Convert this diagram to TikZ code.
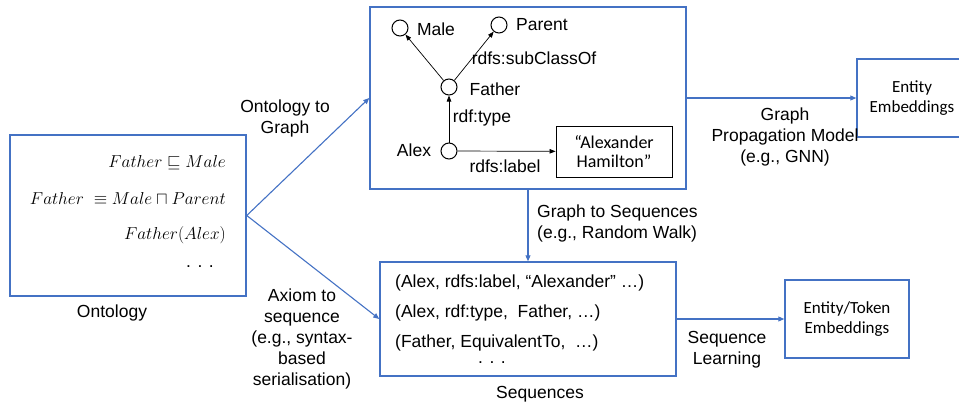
\documentclass[tikz,border=0pt]{standalone}
\usepackage{fontspec}
\setmainfont{Liberation Sans}
\newfontfamily\calibri{Carlito}
\usepackage{amssymb}
\usetikzlibrary{arrows.meta}
\definecolor{boxblue}{RGB}{68,114,196}

\begin{document}
\begin{tikzpicture}[x=1pt,y=-1pt,
    every node/.style={font=\fontsize{17.5}{21}\selectfont, inner sep=0pt},
    bluebox/.style={draw=boxblue, line width=1.5pt},
    flow/.style={draw=boxblue, line width=1.1pt, -{Triangle[length=6pt,width=5pt]}},
    rdfnode/.style={circle, draw, line width=1pt, minimum size=16pt},
    rdfedge/.style={draw, line width=0.7pt, -{Triangle[length=6pt,width=4.5pt]}},
    embtext/.style={align=center, font=\calibri\fontsize{17}{20}\selectfont}
  ]
        \clip (0,0) rectangle (959,405);
        % ontology
        \node[bluebox, minimum width=236pt, minimum height=161pt] (onto) at (128,215.5) {};
        \node (ax1) at (226,163) [anchor=east] {\fontsize{18}{21}\selectfont$Father \sqsubseteq Male$};
        \node (ax2) at (226,198) [anchor=east] {\fontsize{18}{21}\selectfont$Father\ \equiv Male \sqcap Parent$};
        \node (ax3) at (226,235) [anchor=east] {\fontsize{18}{21}\selectfont$Father(Alex)$};
        \node (axd) at (200,267) {. . .};
        \node (ontolabel) at (112,313) {Ontology};
        % graph
        \node[bluebox, minimum width=316pt, minimum height=182pt] (graph) at (528,98) {};
        \node[rdfnode] (male) at (400,28) {};
        \node[rdfnode] (parent) at (499,25) {};
        \node[rdfnode] (father) at (449,87) {};
        \node[rdfnode] (alex) at (449,151) {};
        \node (malelabel) at (436,29) {Male};
        \node (parentlabel) at (542,25) {Parent};
        \node (fatherlabel) at (495,89) {Father};
        \node (alexlabel) at (414,150) {Alex};
        \node[draw, line width=0.9pt, minimum width=116pt, minimum height=51pt, embtext,
              font=\calibri\fontsize{18}{19.5}\selectfont] (hamilton) at (614,151.5) {“Alexander\\Hamilton”};
        \draw[rdfedge] (father) -- (male);
        \draw[rdfedge] (father) -- (parent);
        \draw[rdfedge] (alex) -- (father);
        \draw[rdfedge] (alex) -- (hamilton);
        \node (subclass) at (534,58) {rdfs:subClassOf};
        \node (rdftype) at (482,118) {rdf:type};
        \node (rdfslabel) at (505,166) {rdfs:label};
        % sequences
        \node[bluebox, minimum width=296pt, minimum height=114pt] (seq) at (528,319) {};
        \node (seq1) at (395,283) [anchor=west] {(Alex, rdfs:label, “Alexander” …)};
        \node (seq2) at (395,313) [anchor=west] {(Alex, rdf:type,\ \ Father, …)};
        \node (seq3) at (395,343) [anchor=west] {(Father, EquivalentTo,\ \ …)};
        \node (seqd) at (492,363) {. . .};
        \node (seqlabel) at (540,394) {Sequences};
        % embeddings
        \node[bluebox, minimum width=111pt, minimum height=78pt] (entity) at (912.5,98) {};
        \node[embtext] (entitytext) at (912,98) {Entity\\Embeddings};
        \node[bluebox, minimum width=124pt, minimum height=78pt] (token) at (847,319) {};
        \node[embtext] (tokentext) at (847,319) {Entity/Token\\Embeddings};
        % flows
        \draw[flow] (onto.east) -- (graph.west);
        \draw[flow] (onto.east) -- (seq.west);
        \draw[flow] (graph.east) -- (entity.west);
        \draw[flow] (graph.south) -- (seq.north);
        \draw[flow] (seq.east) -- (token.west);
        \node[align=center] (o2g) at (285,118) {Ontology to\\Graph};
        \node[align=center] (a2s) at (302,339) {Axiom to\\sequence\\(e.g., syntax-\\based\\serialisation)};
        \node[align=left, anchor=west] (g2s) at (537,223) {Graph to Sequences\\(e.g., Random Walk)};
        \node[align=center] (gpm) at (785,137) {Graph\\Propagation Model\\(e.g., GNN)};
        \node[align=center] (seqlearn) at (727,350) {Sequence\\Learning};
\end{tikzpicture}
\end{document}
